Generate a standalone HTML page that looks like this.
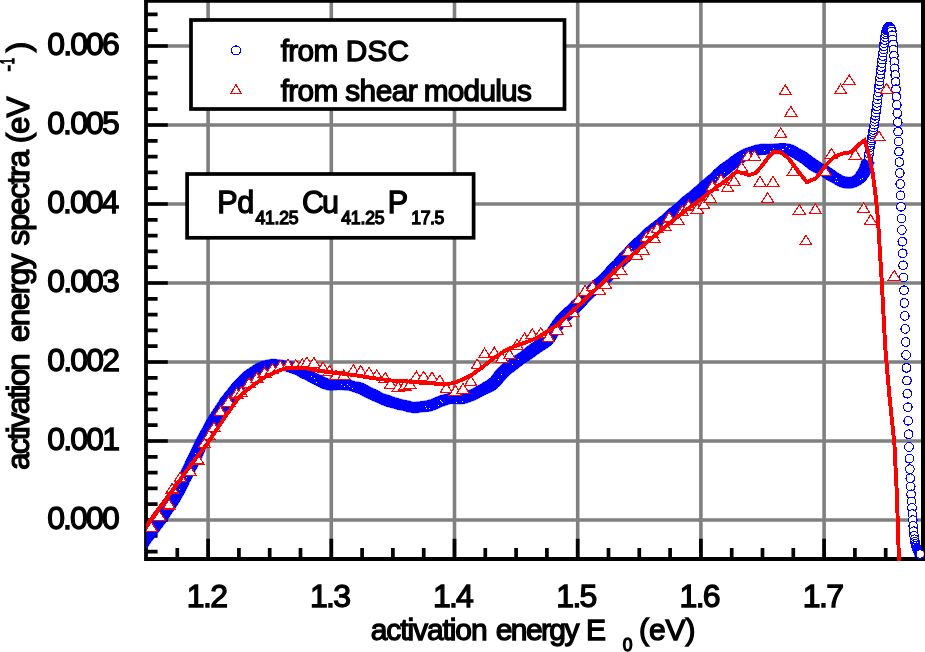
<!DOCTYPE html>
<html><head><meta charset="utf-8"><title>activation energy spectra</title>
<style>html,body{margin:0;padding:0;background:#fff}svg{display:block}text{font-family:"Liberation Sans",Arial,sans-serif;fill:#000;stroke:#000;stroke-width:1.3px}</style></head><body>
<svg width="925" height="652" viewBox="0 0 925 652">
<defs>
<clipPath id="pc"><rect x="146.2" y="0" width="777.4" height="561"/></clipPath>
<marker id="mc" markerUnits="userSpaceOnUse" markerWidth="12" markerHeight="12" refX="6" refY="6" viewBox="0 0 12 12" overflow="visible"><circle cx="6" cy="6" r="4.3" fill="#fff" stroke="#00f" stroke-width="1.15" shape-rendering="crispEdges"/></marker>
<marker id="mt" markerUnits="userSpaceOnUse" markerWidth="16" markerHeight="14" refX="8" refY="7" viewBox="0 0 16 14" overflow="visible"><path d="M8 2 L14.1 11.6 L1.9 11.6 Z" fill="#fff" stroke="#f00" stroke-width="1.15" shape-rendering="crispEdges"/></marker>
</defs>
<rect width="925" height="652" fill="#fff"/>
<path d="M208.1 0V559M331.3 0V559M454.5 0V559M577.7 0V559M700.9 0V559M824.1 0V559M146 520H923M146 441H923M146 362H923M146 283H923M146 204H923M146 125H923M146 46H923" stroke="#808080" stroke-width="3.6" fill="none"/>
<path d="M146 551.6H157.6M146 535.8H157.6M146 520H167.8M146 504.2H157.6M146 488.4H157.6M146 472.6H157.6M146 456.8H157.6M146 441H167.8M146 425.2H157.6M146 409.4H157.6M146 393.6H157.6M146 377.8H157.6M146 362H167.8M146 346.2H157.6M146 330.4H157.6M146 314.6H157.6M146 298.8H157.6M146 283H167.8M146 267.2H157.6M146 251.4H157.6M146 235.6H157.6M146 219.8H157.6M146 204H167.8M146 188.2H157.6M146 172.4H157.6M146 156.6H157.6M146 140.8H157.6M146 125H167.8M146 109.2H157.6M146 93.4H157.6M146 77.6H157.6M146 61.8H157.6M146 46H167.8M146 30.2H157.6M146 14.4H157.6M177.3 559V548M208.1 559V538.7M238.9 559V548M269.7 559V548M300.5 559V548M331.3 559V538.7M362.1 559V548M392.9 559V548M423.7 559V548M454.5 559V538.7M485.3 559V548M516.1 559V548M546.9 559V548M577.7 559V538.7M608.5 559V548M639.3 559V548M670.1 559V548M700.9 559V538.7M731.7 559V548M762.5 559V548M793.3 559V548M824.1 559V538.7M854.9 559V548M885.7 559V548M916.5 559V548" stroke="#000" stroke-width="3.7" fill="none"/>
<path d="M146 0V561M144.2 559H925M144.2 0.9H925" stroke="#000" stroke-width="3.8" fill="none"/>
<path d="M923 0V561" stroke="#000" stroke-width="4" fill="none"/>
<g clip-path="url(#pc)" shape-rendering="crispEdges">
<polyline points="846,182.6 846.4,182.7 846.9,182.7 847.3,182.8 847.7,182.8 848.1,182.9 848.5,182.9 849,182.9 849.4,182.9 849.8,182.9 850.2,182.8 850.6,182.7 851.1,182.7 851.5,182.6 851.9,182.5 852.3,182.4 852.7,182.3 853.2,182.2 853.6,182 854,181.8 854.4,181.6 854.8,181.3 855.3,181.1 855.7,180.8 856.1,180.5 856.5,180.3 856.9,180 857.4,179.7 857.8,179.4 858.2,179.1 858.6,178.7 859,178.4 859.5,178 859.9,177.6 860.3,177.2 860.7,176.7 861.1,176.2 861.6,175.7 862,175.1 862.4,174.5 862.8,173.9 863.2,173.2 863.7,172.5 864.1,171.7 864.5,170.9 864.9,170 865.3,169.1 865.8,168.1 866.2,167.1 866.6,165.9 867,164.6 867.4,163.1 867.9,161.3 868.3,159.3 868.7,157 869.1,153.7 869.5,150.3 870,147.4 870.4,145 870.8,142.7 871.2,140.5 871.6,138.4 872.1,136.3 872.5,134.2 872.9,132.1 873.3,129.9 873.7,127.4 874.2,124.7 874.6,121.8 875,118.9 875.4,115.8 875.8,112.7 876.3,109.5 876.7,106.3 877.1,102.9 877.5,99.4 877.9,95.8 878.4,92.2 878.8,88.5 879.2,84.8 879.6,81.2 880,77.6 880.5,74.1 880.9,70.5 881.3,66.9 881.7,63.2 882.1,59.6 882.6,56.1 883,52.6 883.4,49.4 883.8,46.3 884.2,43.2 884.7,40.1 885.1,37 885.5,34.2 885.9,32 886.3,30.4 886.8,29.5 887.2,28.7 887.6,27.9 888,27.3 888.4,26.9 888.9,26.7 889.3,26.7 889.7,27 890.1,27.4 890.5,28 891,28.8 891.4,29.7 891.8,31.4 892.2,35.2 892.6,39.5 893.1,44.5 893.5,49.8 893.9,55.6 894.3,61.8 894.7,68.3 895.2,75 895.6,81.9 896,89.2 896.4,96.8 896.8,104.8 897.3,113.3 897.7,122.2 898.1,131.6 898.5,141.4 898.9,151.6 899.4,162.1 899.8,173 900.2,184 900.6,195.3 901,206.8 901.5,218.4 901.9,230 902.3,241.7 902.7,253.3 903.1,265.3 903.6,277.6 904,290.2 904.4,303 904.8,315.9 905.2,328.9 905.7,342 906.1,355 906.5,367.9 906.9,380.6 907.3,393.7 907.8,407.2 908.2,420.8 908.6,434.2 909,447 909.4,458.7 909.9,469.1 910.3,478.2 910.7,486.6 911.1,494.3 911.5,501.4 912,507.9 912.4,514.1 912.8,520.1 913.2,525.9 913.6,531.2 914.1,535.7 914.5,539.2 914.9,541.8 915.3,544 915.7,545.8 916.2,547.3 916.6,548.5 917,549.4 917.4,550.3 917.8,551.2 918.3,551.9 918.7,552.6 919.1,553.2 919.5,553.6 919.9,553.9 920.4,554" fill="none" stroke="none" marker-start="url(#mc)" marker-mid="url(#mc)" marker-end="url(#mc)"/>
<polygon points="145.1,550.6 147.1,547.8 149.1,545 151,542.1 153.1,539.5 155.1,536.7 157.1,534 159.1,531.3 161.2,528.6 163.3,525.8 165.3,522.9 167.3,520 169.2,517.1 171.2,514.1 173.2,511.1 175.4,508 177.6,504.7 179.7,501.3 181.7,497.6 183.9,494 185.7,490.1 187.8,486.2 189.6,482.2 191.7,478.3 193.7,474.3 195.6,470.3 197.8,466.2 199.9,462 201.9,457.6 203.8,453.3 205.6,449 207.5,444.9 209.6,441.2 211.6,437.6 213.6,434 215.5,430.5 217.4,427 219.6,423.9 221.4,420.6 223.3,417.5 225,414.3 227.1,411.4 229.1,408.6 231.3,405.9 233.3,403.3 235.2,400.6 236.9,397.9 238.7,395.4 240.8,393.3 242.8,391.1 244.9,389 246.5,386.7 248.3,384.6 250.2,382.8 252,381.3 253.8,379.9 255.6,378.2 257.3,376.7 259.1,375.3 260.7,374.1 262.4,373.4 263.9,372.8 265.9,372 267.7,371.2 269.4,370.6 271,370.1 272.4,369.8 273.9,370 275.7,370.1 277.5,370.3 279.4,370.2 281.4,370.5 283.3,370.5 285,370.9 286.7,371.6 288.6,372.2 290.4,373 292.1,373.4 293.9,374.1 295.8,374.7 297.6,375.9 299.4,377 301.4,378.1 303.3,378.8 305.2,379.6 307.1,380.9 309.2,381.9 311.3,383 313.6,384.1 315.8,385.2 317.5,386.2 319.5,387.2 321.7,388.3 324.1,389.1 326.7,389.8 329.6,390.3 332,390.4 334.1,390.1 336.1,390 338.1,389.7 340.1,389.7 342.1,389.8 343.9,390 345.5,390.3 347.1,390.3 348.9,390.5 350.7,390.8 352.5,391.7 354.5,392.2 356.2,392.8 357.9,393.3 359.7,394.1 361.5,395.2 363.4,396.3 365.4,397.4 367.6,398.4 369.6,399.1 371.6,400.2 373.6,401.1 375.7,402 377.9,402.8 380,403.8 382,404.8 384.1,405.6 386.1,406.4 388.3,407 390.4,407.5 392.5,408.1 394.7,408.6 396.7,409.4 398.8,409.8 400.9,410.2 403,410.5 404.9,411.1 406.8,411.8 408.5,412.2 410.7,412.5 413.7,412.9 416.4,412.8 418.6,412.6 420.6,412.3 422.7,411.8 424.8,411.8 426.9,411.6 429.1,411.5 431.3,411 433.7,410.2 436,409.4 438.1,408.4 440.1,407.6 441.9,406.7 443.7,406.1 445.8,405.4 447.9,404.7 449.6,404.1 451,403.6 452,403.5 453.8,403.5 455.6,403.7 457.7,403.8 459.9,404 462.6,403.9 465.4,403.5 467.9,402.7 470.2,401.9 472.2,401 474.1,400.4 476.3,399.3 478.5,398.3 480.6,397.1 482.7,396 484.7,394.9 486.7,394 488.9,393.1 491.1,392.1 493.4,390.9 495.7,389.4 498.2,387.3 500.6,384.9 502.7,382.3 504.9,379.9 506.7,377.7 508.2,376 510,374.4 511.9,372.9 513.9,371.6 515.8,370 517.8,368.5 519.6,367 521.6,365.6 523.4,364 525.4,362.6 527.4,361.3 529.5,360.1 531.6,358.7 533.5,357.3 535.5,355.9 537.4,354.4 539.5,353.1 541.2,351.7 543.1,350.6 545.2,349.3 547.5,347.8 550,346 552.8,343.4 555.3,339.9 557.4,336.6 559.1,333.8 561.3,330.8 563.2,327.9 565,325.3 566.7,323.2 568.3,321.6 570.1,320.1 571.9,318.4 573.9,316.4 576.1,314.4 578.4,312.7 580.5,310.7 582.6,308.7 584.6,306.6 586.6,304.6 588.4,302.4 590.3,300.3 592.4,298.5 594.4,296.6 596.3,294.8 598.2,292.9 600.2,291.2 602.3,289.6 604.4,287.8 606.3,285.8 608.4,283.9 610.6,282 612.6,279.8 614.6,277.5 616.5,275.2 618.6,273.1 620.6,270.9 622.5,268.6 624.4,266.4 626.5,264.3 628.6,262.4 630.6,260.5 632.6,258.3 634.4,256.1 636.3,254.1 638.5,252.3 640.7,250.5 642.6,248.5 644.5,246.6 646.5,244.8 648.4,243 650.3,241.2 652.1,239.4 654,237.6 655.9,235.9 657.8,234.1 659.9,232.6 662,231 664.1,229.6 666.1,227.9 668,226 670,224.3 672.1,222.7 674.3,221.2 676.2,219.5 678.2,217.7 680,215.9 681.9,214.1 683.9,212.3 685.9,210.7 688,209 690.1,207.4 692,205.7 694.1,204 696.1,202.4 698,200.6 700.1,198.9 701.9,197 704,195.5 706.1,193.7 708.1,192.1 709.9,190.2 712,188.5 714,186.8 716.1,185 717.9,183 719.9,181.2 722,179.5 724.1,177.9 726.1,176.3 728.1,174.8 730.1,173.3 731.9,171.8 733.7,170.3 735.6,168.7 737.6,167.1 739.5,165.6 741.3,164 743.3,162.8 745.1,161.5 746.9,160.3 748.6,159.2 750.3,158.4 752,157.8 753.6,157.1 755.6,156.5 757.4,155.8 759.2,155.2 760.9,154.7 762.6,154.5 764.3,154.6 766.2,154.5 768.2,154.4 770.1,154.1 772.1,153.9 774.1,153.7 776.1,153.8 778.1,153.8 780,153.7 782,153.8 783.9,153.9 785.1,154.2 786.4,154.8 787.9,155.4 789.5,156.1 791.3,157 793.2,158 795.1,159.3 797.1,160.5 799.2,161.9 800.9,162.8 802.6,164.1 804.5,165.6 806.3,167.3 808.4,168.9 810.7,170.4 813,171.8 815.2,172.8 817.3,173.8 819.3,174.9 821.2,176 822.9,177.3 824.6,178.3 826.4,179.5 828.5,180.7 830.8,181.9 833.1,183.1 835.4,184.5 837.6,185.8 840,186.8 842.9,187.7 845,188.2 847.6,188.4 850.7,188.4 853.3,187.8 856.5,186.8 859.1,185.4 861.6,184 864.3,181.9 864.9,181.3 865.6,180.7 866.1,180.1 866.6,179.4 867,178.6 867.4,177.9 868,177.3 868.5,176.5 869.3,175.8 869.6,174.8 870.1,173.9 870.5,172.9 870.9,172 871.4,171 871.7,169.8 872.2,168.6 872.6,167.1 873.1,165.6 873.7,163.9 874.3,162.1 861.8,159.4 861.6,160.9 861.1,162.2 860.8,163.4 860.3,164.3 860.1,165.1 859.8,165.9 859.7,166.8 859.4,167.7 858.9,168.4 858.6,169 858.2,169.6 858,170.1 857.5,170.5 857.1,170.9 856.7,171.3 856.4,171.7 856.3,172.2 856.1,172.7 856.1,173.1 856,173.5 854.6,174.8 853,175.9 851.5,176.8 850.7,177 849.4,177.2 848.4,177.2 847,176.9 845.2,176.7 844,176.3 842.4,175.6 840.8,174.6 839.1,173.7 837.3,172.4 835.4,171.1 833.3,169.7 831.1,168.2 828.9,166.7 826.8,165.5 824.6,164.6 822.6,163.7 820.7,162.5 819,161.3 817.2,160.3 815.5,159 813.6,157.7 811.6,156.2 809.5,154.6 807.3,153 805.1,151.4 803.1,150.5 801,149.4 798.9,148.4 796.8,147 794.6,145.8 792.2,144.8 789.6,144.1 786.9,143.6 784.1,143.4 782,143.5 780,143.4 777.9,143.6 775.9,143.7 773.9,143.9 771.9,144 769.9,144.1 767.8,144.2 765.8,144 763.7,144.1 761.3,144 759,144.5 756.7,144.8 754.6,145.4 752.5,146 750.4,146.8 748.1,147.5 745.7,148.2 743.3,149.2 741,150.3 738.8,151.7 736.6,153 734.4,154.3 732.4,155.9 730.3,157.3 728.5,158.9 726.5,160.3 724.3,161.8 722.1,163.3 719.9,164.9 717.8,166.7 715.8,168.4 713.7,170.2 711.9,172.3 710,174.1 708,175.9 705.9,177.4 704,179.1 702,180.9 700,182.6 698,184.3 696,186.1 694,187.8 692.1,189.6 690,191.1 688.1,192.9 685.9,194.4 683.9,196.1 681.8,197.6 679.8,199.4 678,201.3 676.1,203.1 674.1,204.8 672,206.4 669.9,208 667.8,209.5 666,211.4 664.1,213.3 662.2,215.1 660.2,216.7 658.1,218.2 656.2,219.9 654.1,221.5 652,223.1 649.9,224.6 647.8,226.3 645.7,227.9 643.7,229.6 641.7,231.5 639.8,233.6 637.8,235.6 635.7,237.4 633.6,239.3 631.4,241.2 629.4,243.2 627.4,245.3 625.5,247.5 623.5,249.6 621.5,251.6 619.4,253.6 617.5,255.9 615.5,258.2 613.6,260.5 611.4,262.5 609.2,264.5 607.2,266.6 605.4,268.8 603.6,271 601.8,273 599.9,274.9 597.9,276.7 595.8,278.3 593.8,280 591.8,281.9 589.9,283.8 587.9,285.8 585.8,287.8 583.8,289.8 581.7,291.8 579.7,293.8 577.7,295.9 575.5,297.8 573.4,299.7 571.4,301.6 569.7,303.7 567.7,305.5 565.9,307.2 564,308.7 562.1,310.5 559.9,312.6 557.4,315 555,317.8 552.9,320.8 550.9,323.8 548.9,326.6 546.6,330 544.7,333.1 543.4,335.4 542.1,336.8 540.6,338.1 538.7,339.1 536.8,340.1 534.6,341.4 532.4,342.9 530.4,344.2 528.4,345.6 526.4,347.1 524.6,348.6 522.7,350.2 520.8,351.8 518.8,353.1 516.7,354.4 514.6,355.7 512.4,357.1 510.4,358.6 508.3,360 506.2,361.5 503.9,363 501.7,364.7 499.5,366.6 497,369.1 494.9,371.7 493.1,374.3 491.5,376.5 490,378.1 488.5,379.3 486.7,380.4 485.1,381.6 483.1,382.5 481.2,383.8 479.2,385 477.3,386.1 475.3,387.1 473.5,388.1 471.7,389.2 469.9,389.9 467.8,390.7 465.8,391.5 464.1,392.4 462.6,392.9 461.4,393.2 460.1,393.4 458.3,393.4 456.3,393.2 454.3,392.8 452,392.6 449,393.1 446.5,394 444.1,394.6 442.1,395.1 440.2,395.5 437.9,396.4 435.8,397.2 433.9,398.2 432,398.9 430.3,399.6 428.7,399.9 427,400.6 425.1,400.8 423.2,401.3 421.3,401.3 419.4,401.6 417.3,401.7 415.5,402 414.4,402.2 413.2,402.1 411.4,401.6 409.1,400.9 407.1,400.5 405.1,400.2 403.1,399.8 401.2,399.2 399.3,398.7 397.5,398.1 395.6,397.6 393.7,396.9 391.8,396.3 390,395.5 388,394.9 386,394.4 384,393.8 382.2,393 380.4,391.9 378.5,390.9 376.6,389.9 374.5,389 372.4,388 370.5,387.2 368.7,386 366.6,385.1 364.6,383.9 362.3,383 359.8,382.3 357.4,381.8 355.3,381.6 353.3,380.8 351.1,380.3 348.9,379.8 346.5,379.6 344.1,379.5 341.9,379.5 339.9,379.7 337.9,379.7 335.9,379.8 333.9,379.7 332,379.7 330.4,379.4 329.3,379 327.9,378.5 326.3,377.9 324.4,377.1 322.5,375.9 320.3,375 318.5,374.2 316.6,373.5 314.8,372.3 312.8,371.1 310.7,369.9 308.5,368.8 306.5,367.6 304.6,366.4 302.6,365.2 300.5,364.3 298.2,363.6 295.9,362.8 293.6,362.2 291.5,361.5 289.3,361.3 287,360.9 284.8,360.6 282.6,360.2 280.6,359.8 278.5,359.6 276.3,359.4 274.1,359.2 271.6,359.2 269,359.6 266.5,360 264.2,360.8 262,361.2 260.1,362.1 257.4,363 255.1,364.4 252.8,365.7 250.6,367.3 248.4,368.7 246.2,370 243.9,371.9 241.7,373.8 239.6,376 237.4,378.2 235.3,380.4 233.1,382.6 231.1,385 229,387.5 227.1,390.2 224.8,392.8 222.8,395.6 220.5,398.3 218.7,401.4 216.7,404.4 214.7,407.5 212.6,410.6 210.5,413.8 208.4,417.2 206.3,420.5 204.4,424.1 202.5,427.9 200.4,431.5 198.4,435.3 196.1,439.3 194.2,443.5 192.1,447.9 190.2,452.2 188,456.4 185.9,460.5 184.1,464.5 182.2,468.5 180.3,472.6 178.4,476.5 176.3,480.3 174.3,484.1 172.2,487.7 170.2,491.2 168.4,494.7 166.5,498 164.7,501.1 162.5,504 160.5,506.8 158.5,509.7 156.7,512.6 154.9,515.6 152.9,518.4 150.8,521.1 148.7,523.7 146.7,526.4 144.9,529.3 142.8,532 140.7,534.8 138.7,537.6 136.9,540.5 134.9,543.4" fill="#00f" stroke="#00f" stroke-width="0.6" stroke-linejoin="round"/>
<path d="M724 172.5h1M715 179.5h1M717 176.5h1M512 364.5h1M518 359.5h1M349 386.5h1M352 388.5h1M186 477.5h1M188 471.5h1M186 473.5h1M193 460.5h1M425 406.5h1M438 405.5h1M440 400.5h1M442 402.5h1M441 401.5h1M179 489.5h1M178 492.5h1M183 480.5h1M185 475.5h1M187 472.5h1M860 179.5h1M862 178.5h1M615 266.5h1M614 271.5h1M611 273.5h1M316 382.5h1M314 378.5h1M311 376.5h1M462 401.5h1M456 402.5h1M837 181.5h1M836 178.5h1M835 181.5h1M782 149.5h1M783 149.5h1M786 146.5h1M789 148.5h1M747 151.5h1M743 154.5h1M746 157.5h1M752 152.5h1M429 408.5h1M426 408.5h1M498 379.5h1M501 374.5h1M631 248.5h1M188 468.5h1M190 465.5h1M189 469.5h1M547 339.5h1M341 384.5h1M344 386.5h1M347 384.5h1M771 151.5h1M770 151.5h1M773 150.5h1M773 148.5h1M195 453.5h1M191 466.5h1M195 459.5h1M631 250.5h1M632 251.5h1M631 251.5h1M631 252.5h1M764 150.5h1" stroke="#fff" stroke-width="1" fill="none" shape-rendering="crispEdges"/>
<polyline points="151.3,527 159.3,515.7 169,504.4 172.2,488.4 180.2,477.1 189.9,470.7 197.9,459.4 204.4,443.3 209.2,435.3 214,427.2 220.4,411.1 228.5,401.5 236.5,393.4 241.3,391.9 249.1,382.8 256.9,377.6 264.6,372.4 272.4,368.5 280.2,365.9 288,364.6 295.8,364.6 302.3,363.9 306.9,362.1 313.9,362.6 323,367.2 329.5,370.6 336,375 343.8,375 353.4,369.8 360.7,370.6 369,372.4 376.7,375 385.3,377.6 390.5,384.1 398.3,386.7 404.8,385.4 410,384.1 416.4,376.3 423.7,376.3 432,377.1 439.8,380.2 446.3,388 455.4,390.6 463.1,388.5 470.7,380.9 477.2,364.3 484.6,353.2 494.3,352.2 501.9,357.6 509.5,354.3 517,344.6 524.6,338.1 532.2,333.8 540.8,332.7 548.4,337 557,329.5 565.7,321.9 573.2,312.2 578.6,299.2 585.1,290.5 592.7,286.2 599.2,289.5 605.7,284.1 613.2,274.3 620.8,270 628.1,250.8 636.8,255.1 643.2,249.7 646.5,236.8 654.1,237.8 651.9,232.4 657.3,228.1 664.9,225.9 669.2,217.3 677.8,219.5 682.2,210.8 688.6,205.4 697.3,208.6 703.8,204.3 710.3,197.8 712.4,185.9 727.6,187 721.1,179.5 734.1,180.5 741.6,167.1 748.1,155.7 754.6,155.7 760,181.6 773,181.6 767.6,197.8 785.3,90.1 790.9,111.6 780.7,133 849.2,80 840.6,89.2 886.6,88.5 879,136.1 831.4,153.6 855.3,154.5 793,171.1 825.2,171.1 799.4,209.7 815.4,209 863.6,207.9 870.7,219.6 805.9,240.3 894.3,275.6" fill="none" stroke="none" marker-start="url(#mt)" marker-mid="url(#mt)" marker-end="url(#mt)"/>
<polyline points="143,527.5 146.4,525.4 160,507 175,487 190,466 207.6,443.3 225,417 240,395.8 253,385.4 266,376.3 278.9,370.6 286.7,368 304.9,368 317.8,370.6 330.8,372.2 343.8,373.7 356.8,375.5 369.7,377.6 382.7,379.4 395.7,381 408.7,381.5 421.6,382.8 434.6,383.6 447.6,384.1 454.1,382.8 460.8,380.3 471.6,374.9 482.4,367.3 493.2,358.6 504.1,351.1 514.9,346.1 525.7,342.4 536.5,338.1 547.3,331.6 558.1,324.1 568.9,314.3 579.7,304.6 590.5,293.8 601.4,284.1 612.2,273.2 628.1,258.4 643.2,245.4 664.9,227 686.5,209.7 708.1,193.5 721.1,183.8 729.7,177.3 736.2,171.9 742.7,173 749.2,175.1 755.7,173 762.2,165.4 768.6,156.8 773,152.4 779.5,151.5 788.4,158.2 797.6,170.5 806.8,182.2 816,178.2 825.2,165.9 834.5,156.7 842.1,153.6 851.3,152.1 859,144.4 864.5,140.4 868.2,152.1 872.8,173.6 875.9,198.1 878,219.6 878.6,230 881.8,282 885.2,347 889.3,395 894.4,444 897,497.5 898.9,559 899.3,572" fill="none" stroke="#f00" stroke-width="3.9" stroke-linejoin="miter"/>
</g>
<rect x="191" y="20" width="373.5" height="89" fill="#fff" stroke="#000" stroke-width="3.7"/>
<rect x="187.1" y="174" width="286.5" height="63.8" fill="#fff" stroke="#000" stroke-width="3.7"/>
<circle cx="236" cy="50.4" r="4.5" fill="#fff" stroke="#00f" stroke-width="1.15" shape-rendering="crispEdges"/>
<path d="M236 84.5L241.4 93.9L230.6 93.9Z" fill="#fff" stroke="#f00" stroke-width="1.15" shape-rendering="crispEdges"/>
<g>
<text><tspan x="280.73" y="61.3" font-size="29.8" textLength="57.59">from</tspan> <tspan x="345.71" y="61.3" font-size="29.8" textLength="63.38">DSC</tspan></text>
<text><tspan x="280.73" y="101.3" font-size="29.8" textLength="57.59">from</tspan> <tspan x="345.22" y="101.3" font-size="29.8" textLength="72.52">shear</tspan> <tspan x="423.67" y="101.3" font-size="29.8" textLength="108.16">modulus</tspan></text>
<text><tspan x="217.25" y="213.1" font-size="30.5" textLength="36.97">Pd</tspan><tspan x="255.55" y="224.3" font-size="17.6" textLength="43.04">41.25</tspan><tspan x="301.90" y="213.1" font-size="30.5" textLength="37.07">Cu</tspan><tspan x="341.15" y="224.3" font-size="17.6" textLength="43.44">41.25</tspan><tspan x="387.65" y="213.1" font-size="30.5" textLength="21.21">P</tspan><tspan x="411.31" y="224.3" font-size="17.6" textLength="32.88">17.5</tspan></text>
<text><tspan x="47.20" y="529" font-size="32" textLength="72.50">0.000</tspan></text>
<text><tspan x="47.20" y="450" font-size="32" textLength="72.81">0.001</tspan></text>
<text><tspan x="47.20" y="371" font-size="32" textLength="72.86">0.002</tspan></text>
<text><tspan x="47.20" y="292" font-size="32" textLength="72.66">0.003</tspan></text>
<text><tspan x="47.20" y="213" font-size="32" textLength="72.19">0.004</tspan></text>
<text><tspan x="47.20" y="134" font-size="32" textLength="72.59">0.005</tspan></text>
<text><tspan x="47.20" y="55" font-size="32" textLength="72.66">0.006</tspan></text>
<text><tspan x="186.71" y="606.5" font-size="32" textLength="41.35">1.2</tspan></text>
<text><tspan x="309.91" y="606.5" font-size="32" textLength="41.14">1.3</tspan></text>
<text><tspan x="433.11" y="606.5" font-size="32" textLength="40.68">1.4</tspan></text>
<text><tspan x="556.31" y="606.5" font-size="32" textLength="41.08">1.5</tspan></text>
<text><tspan x="679.51" y="606.5" font-size="32" textLength="41.14">1.6</tspan></text>
<text><tspan x="802.71" y="606.5" font-size="32" textLength="41.35">1.7</tspan></text>
<text><tspan x="370.78" y="639.6" font-size="30" textLength="116.82">activation</tspan> <tspan x="495.78" y="639.6" font-size="30" textLength="83.63">energy</tspan> <tspan x="586.09" y="639.6" font-size="30" textLength="19.95">E</tspan><tspan x="622.77" y="651.4" font-size="17.5" textLength="8.77">0</tspan> <tspan x="639.09" y="639.6" font-size="30" textLength="56.32">(eV)</tspan></text>
<text transform="translate(29.3 469.2) rotate(-90)"><tspan x="-0.69" y="0" font-size="31.5" textLength="116.78">activation</tspan> <tspan x="126.91" y="0" font-size="31.5" textLength="88.70">energy</tspan> <tspan x="223.67" y="0" font-size="31.5" textLength="95.48">spectra</tspan> <tspan x="326.00" y="0" font-size="31.5" textLength="46.69">(eV</tspan><tspan x="397.78" y="-14.7" font-size="19.5" textLength="6.63">-</tspan><tspan x="405.02" y="-15.6" font-size="19.5" textLength="6.06" lengthAdjust="spacingAndGlyphs">1</tspan><tspan x="416.97" y="0" font-size="31.5" textLength="10.44">)</tspan></text>
</g>
</svg>
</body></html>
